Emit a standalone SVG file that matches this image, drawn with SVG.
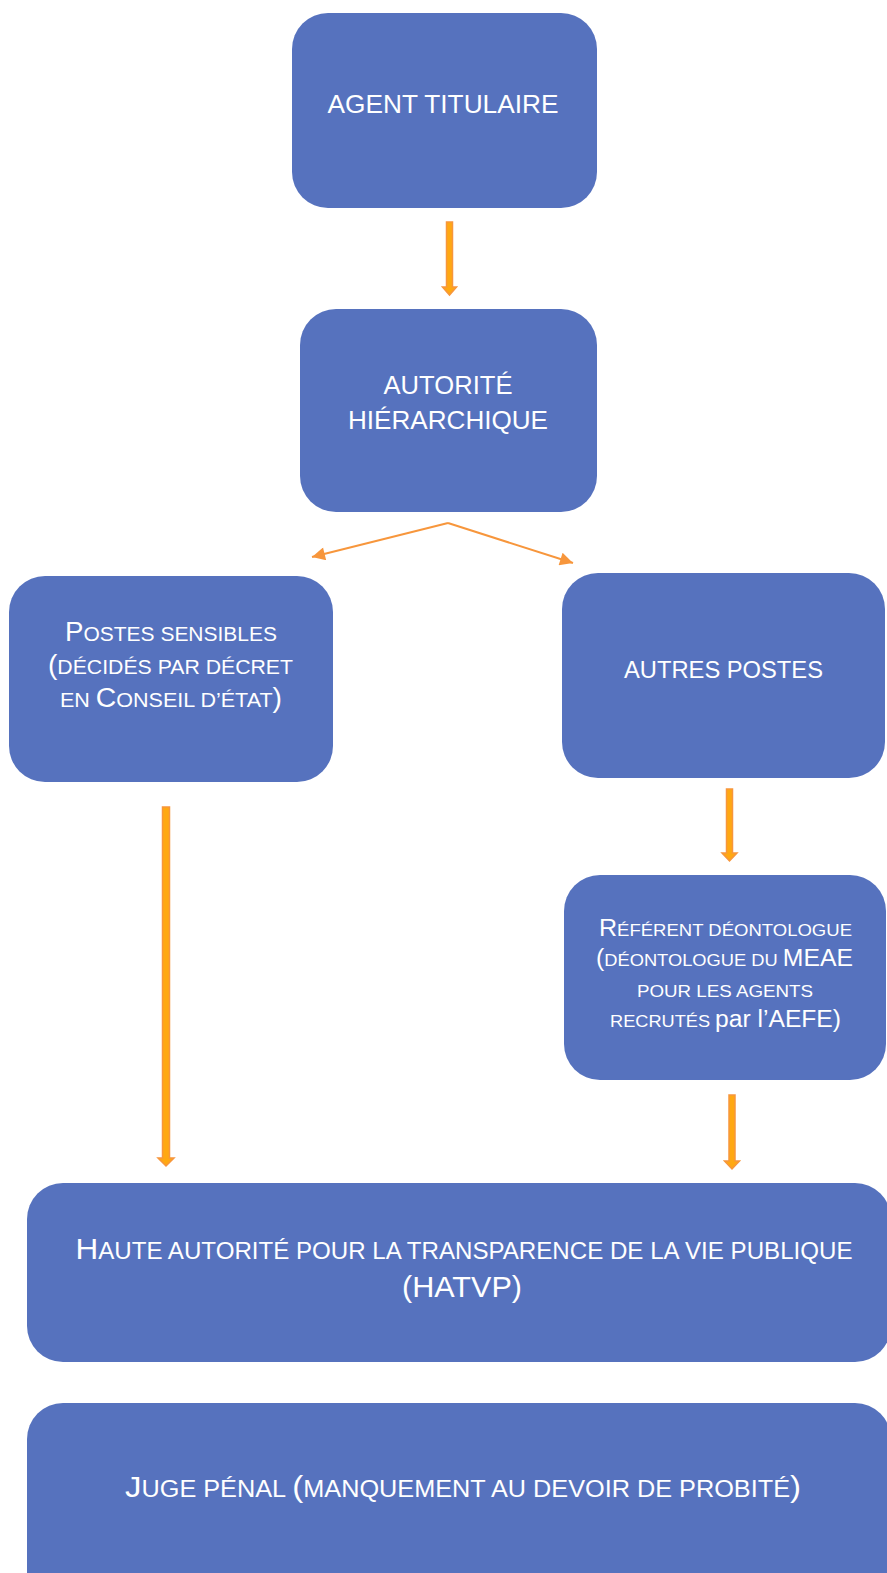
<svg xmlns="http://www.w3.org/2000/svg" width="887" height="1573" viewBox="0 0 887 1573">
<style>
.box{fill:#5672BE}
text{font-family:"Liberation Sans",Arial,sans-serif;fill:#FFFFFF;text-anchor:middle}
.blk{fill:#FFA812;stroke:#F7963C;stroke-width:1.5;stroke-linejoin:miter}
.ln{stroke:#F7963C;stroke-width:2;fill:none}
</style>
<defs>
<marker id="ah" viewBox="0 0 10 10" refX="10" refY="5" markerWidth="8" markerHeight="6.5" orient="auto">
<path d="M0,0 L10,5 L0,10 z" fill="#F7963C"/>
</marker>
</defs>
<g id="n1"><rect class="box" x="292" y="13" width="305" height="195" rx="36"/>
<text x="443" y="113" font-size="26" textLength="231" lengthAdjust="spacingAndGlyphs">AGENT TITULAIRE</text></g>
<g id="n2"><rect class="box" x="300" y="309" width="297" height="203" rx="36"/>
<text x="448" y="394" font-size="25.5" textLength="129" lengthAdjust="spacingAndGlyphs">AUTORITÉ</text>
<text x="448" y="429" font-size="25.5" textLength="200" lengthAdjust="spacingAndGlyphs">HIÉRARCHIQUE</text></g>
<g id="n3"><rect class="box" x="9" y="576" width="324" height="206" rx="36"/>
<text x="171" y="641" textLength="212" lengthAdjust="spacingAndGlyphs"><tspan font-size="27">P</tspan><tspan font-size="20.5">OSTES SENSIBLES</tspan></text>
<text x="170.5" y="674" textLength="245" lengthAdjust="spacingAndGlyphs"><tspan font-size="27">(</tspan><tspan font-size="20.5">DÉCIDÉS PAR DÉCRET</tspan></text>
<text x="171" y="707" textLength="222" lengthAdjust="spacingAndGlyphs"><tspan font-size="20.5">EN </tspan><tspan font-size="27">C</tspan><tspan font-size="20.5">ONSEIL D’ÉTAT</tspan><tspan font-size="27">)</tspan></text></g>
<g id="n4"><rect class="box" x="562" y="573" width="323" height="205" rx="36"/>
<text x="723.5" y="678" font-size="24" textLength="199" lengthAdjust="spacingAndGlyphs">AUTRES POSTES</text></g>
<g id="n5"><rect class="box" x="564" y="875" width="322" height="205" rx="36"/>
<text x="725.5" y="936" textLength="253" lengthAdjust="spacingAndGlyphs"><tspan font-size="23">R</tspan><tspan font-size="17">ÉFÉRENT DÉONTOLOGUE</tspan></text>
<text x="724.5" y="966" textLength="257" lengthAdjust="spacingAndGlyphs"><tspan font-size="23">(</tspan><tspan font-size="17">DÉONTOLOGUE DU </tspan><tspan font-size="23">MEAE</tspan></text>
<text x="725" y="997" font-size="17" textLength="176" lengthAdjust="spacingAndGlyphs">POUR LES AGENTS</text>
<text x="725.5" y="1027" textLength="231" lengthAdjust="spacingAndGlyphs"><tspan font-size="17">RECRUTÉS </tspan><tspan font-size="23">par l’AEFE)</tspan></text></g>
<g id="n6"><rect class="box" x="27" y="1183" width="864" height="179" rx="36"/>
<text x="464" y="1259" textLength="777" lengthAdjust="spacingAndGlyphs"><tspan font-size="30">H</tspan><tspan font-size="23">AUTE AUTORITÉ POUR LA TRANSPARENCE DE LA VIE PUBLIQUE</tspan></text>
<text x="462" y="1297" font-size="30" textLength="120" lengthAdjust="spacingAndGlyphs">(HATVP)</text></g>
<g id="n7"><rect class="box" x="27" y="1403" width="864" height="210" rx="36"/>
<text x="463" y="1497" textLength="676" lengthAdjust="spacingAndGlyphs"><tspan font-size="30">J</tspan><tspan font-size="23">UGE PÉNAL </tspan><tspan font-size="30">(</tspan><tspan font-size="23">MANQUEMENT AU DEVOIR DE PROBITÉ</tspan><tspan font-size="30">)</tspan></text></g>
<g id="connectors">
<path class="blk" d="M446.5,222 H452.5 V287 H456.5 L449.5,295 L442.5,287 H446.5 Z"/>
<path class="ln" d="M448,523 L312,557" marker-end="url(#ah)"/>
<path class="ln" d="M448,523 L573,563" marker-end="url(#ah)"/>
<path class="blk" d="M726.5,789 H732.5 V853 H737 L729.5,861 L722,853 H726.5 Z"/>
<path class="blk" d="M729,1095 H735 V1161 H739.5 L732,1169 L724.5,1161 H729 Z"/>
<path class="blk" d="M162.5,807 H169.5 V1158 H174 L166,1166 L158,1158 H162.5 Z"/>
</g>
</svg>
